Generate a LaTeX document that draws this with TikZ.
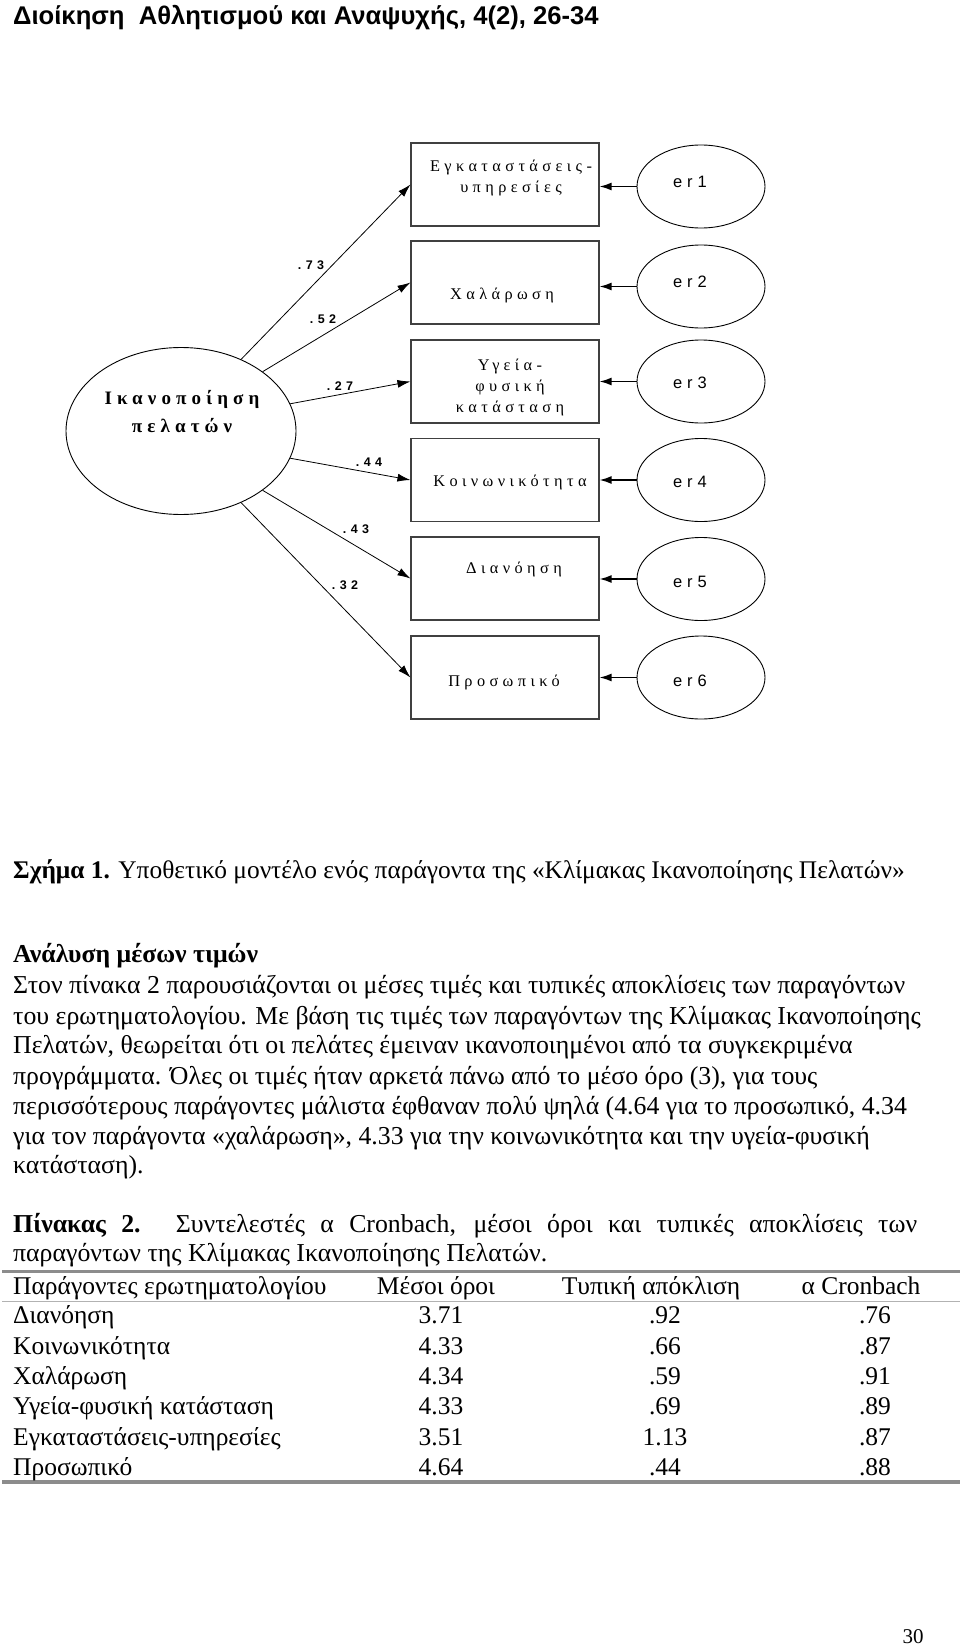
\documentclass[tikz,border=0pt]{standalone}
\usepackage{fontspec}
\setmainfont{Liberation Serif}
\newfontfamily\hdrfont{Liberation Sans}
\newfontfamily\spserif{Liberation Serif}[LetterSpace=27]
\newfontfamily\spsans{Liberation Sans}[LetterSpace=30]
\newfontfamily\spsansb{Liberation Sans}[LetterSpace=35]
\usetikzlibrary{shapes.geometric,arrows.meta}
\begin{document}
\begin{tikzpicture}[x=1pt,y=-1pt,
  arr/.style={-{Latex[length=13pt,width=8pt]}, line width=0.8pt},
  earr/.style={-{Latex[length=12pt,width=8pt]}, line width=1.6pt},
  obs/.style={draw=black!75, line width=1.1pt, minimum width=188pt, minimum height=83pt, inner sep=0pt},
  err/.style={draw, ellipse, line width=0.9pt, minimum width=128pt, minimum height=83pt, inner sep=0pt},
  lat/.style={draw, ellipse, line width=0.9pt, minimum width=230pt, minimum height=167pt, inner sep=0pt},
  boxlbl/.style={font=\spserif\fontsize{16.3}{21}\selectfont, align=center, inner sep=0pt},
  errlbl/.style={font=\spsans\fontsize{16.5}{20}\selectfont, inner sep=0pt},
  latlbl/.style={font=\spserif\bfseries\fontsize{19}{28}\selectfont, align=center, inner sep=0pt},
  load/.style={font=\spsansb\bfseries\fontsize{12.5}{14}\selectfont, inner sep=0pt},
  body/.style={font=\fontsize{25.8}{29.5}\selectfont, anchor=base west, inner sep=0pt},
  cell/.style={font=\fontsize{25.5}{29.5}\selectfont, anchor=base, inner sep=0pt},
  rule/.style={draw=black!45}
]
\useasboundingbox (0,0) rectangle (960,1648);
\fill[white] (0,0) rectangle (960,1648);

% header
\node[font=\hdrfont\bfseries\fontsize{25.6}{29}\selectfont, anchor=base west, inner sep=0pt] (hdr) at (13,25) {Διοίκηση\ \ Αθλητισμού και Αναψυχής, 4(2), 26-34};

% latent
\node[lat] (lat) at (181,431) {};
\node[latlbl] (latt) at (182,412) {Ικανοποίηση\\πελατών};

% observed boxes
\node[obs] (b1) at (505,184.5) {};
\node[obs] (b2) at (505,282.5) {};
\node[obs] (b3) at (505,381.5) {};
\node[obs] (b4) at (505,480) {};
\node[obs] (b5) at (505,578.5) {};
\node[obs] (b6) at (505,677.5) {};

\node[boxlbl] (t1) at (511,178) {Εγκαταστάσεις-\\υπηρεσίες};
\node[boxlbl] (t2) at (502,295) {Χαλάρωση};
\node[boxlbl] (t3) at (510,387) {Υγεία-\\φυσική\\κατάσταση};
\node[boxlbl] (t4) at (510,482) {Κοινωνικότητα};
\node[boxlbl] (t5) at (514,569) {Διανόηση};
\node[boxlbl] (t6) at (504,682) {Προσωπικό};

% error ellipses
\node[err] (e1) at (701,186.5) {};
\node[err] (e2) at (701,286.5) {};
\node[err] (e3) at (701,381.5) {};
\node[err] (e4) at (701,480) {};
\node[err] (e5) at (701,579) {};
\node[err] (e6) at (701,677.5) {};
\node[errlbl] (l1) at (690,182) {er1};
\node[errlbl] (l2) at (690,282) {er2};
\node[errlbl] (l3) at (690,383) {er3};
\node[errlbl] (l4) at (690,482) {er4};
\node[errlbl] (l5) at (690,582) {er5};
\node[errlbl] (l6) at (690,681) {er6};

\foreach \i in {1,...,6}{
  \draw[earr] (e\i.west) -- (e\i.west -| b\i.east);
}

% loadings
\draw[arr] (lat.50) -- (b1.west);
\draw[arr] (lat.36) -- (b2.west);
\draw[arr] (lat.14) -- (b3.west);
\draw[arr] (lat.-14) -- (b4.west);
\draw[arr] (lat.-36) -- (b5.west);
\draw[arr] (lat.-50) -- (b6.west);

\node[load] (w1) at (311,265) {.73};
\node[load] (w2) at (323,319) {.52};
\node[load] (w3) at (340,386) {.27};
\node[load] (w4) at (369,462) {.44};
\node[load] (w5) at (356,529) {.43};
\node[load] (w6) at (345,585) {.32};

% text
\node[body, font=\fontsize{25.4}{29.5}\selectfont] (cap) at (13,878) {\textbf{Σχήμα 1.} Υποθετικό μοντέλο ενός παράγοντα της «Κλίμακας Ικανοποίησης Πελατών»};
\node[body] (sec) at (13,962) {\textbf{Ανάλυση μέσων τιμών}};
\node[body] (p1) at (13,993.5) {Στον πίνακα 2 παρουσιάζονται οι μέσες τιμές και τυπικές αποκλίσεις των παραγόντων};
\node[body] (p2) at (13,1024) {του ερωτηματολογίου. Με βάση τις τιμές των παραγόντων της Κλίμακας Ικανοποίησης};
\node[body] (p3) at (13,1053.5) {Πελατών, θεωρείται ότι οι πελάτες έμειναν ικανοποιημένοι από τα συγκεκριμένα};
\node[body] (p4) at (13,1084) {προγράμματα. Όλες οι τιμές ήταν αρκετά πάνω από το μέσο όρο (3), για τους};
\node[body] (p5) at (13,1114.5) {περισσότερους παράγοντες μάλιστα έφθαναν πολύ ψηλά (4.64 για το προσωπικό, 4.34};
\node[body] (p6) at (13,1144) {για τον παράγοντα «χαλάρωση», 4.33 για την κοινωνικότητα και την υγεία-φυσική};
\node[body] (p7) at (13,1173.5) {κατάσταση).};
\node[body] (tc1) at (13,1232) {\makebox[904pt][s]{\textbf{Πίνακας 2.} Συντελεστές α Cronbach, μέσοι όροι και τυπικές αποκλίσεις των}};
\node[body] (tc2) at (13,1261) {παραγόντων της Κλίμακας Ικανοποίησης Πελατών.};

% table rules
\draw[rule, line width=3.5pt] (2,1271.5) -- (960,1271.5);
\draw[rule, line width=1.8pt, draw=black!30] (2,1301.5) -- (960,1301.5);
\draw[rule, line width=3.5pt] (2,1482) -- (960,1482);

% table header
\node[body, font=\fontsize{25.5}{29.5}\selectfont] (h1) at (13,1294) {Παράγοντες ερωτηματολογίου};
\node[cell] (h2) at (436,1294) {Μέσοι όροι};
\node[cell] (h3) at (651,1294) {Τυπική απόκλιση};
\node[cell] (h4) at (861,1294) {α Cronbach};

% rows
\node[body, font=\fontsize{25.5}{29.5}\selectfont] (r1a) at (13,1323.5) {Διανόηση};
\node[cell] (r1b) at (441,1323.5) {3.71};
\node[cell] (r1c) at (665,1323.5) {.92};
\node[cell] (r1d) at (875,1323.5) {.76};
\node[body, font=\fontsize{25.5}{29.5}\selectfont] (r2a) at (13,1354) {Κοινωνικότητα};
\node[cell] (r2b) at (441,1354) {4.33};
\node[cell] (r2c) at (665,1354) {.66};
\node[cell] (r2d) at (875,1354) {.87};
\node[body, font=\fontsize{25.5}{29.5}\selectfont] (r3a) at (13,1384) {Χαλάρωση};
\node[cell] (r3b) at (441,1384) {4.34};
\node[cell] (r3c) at (665,1384) {.59};
\node[cell] (r3d) at (875,1384) {.91};
\node[body, font=\fontsize{25.5}{29.5}\selectfont] (r4a) at (13,1414.5) {Υγεία-φυσική κατάσταση};
\node[cell] (r4b) at (441,1414.5) {4.33};
\node[cell] (r4c) at (665,1414.5) {.69};
\node[cell] (r4d) at (875,1414.5) {.89};
\node[body, font=\fontsize{25.5}{29.5}\selectfont] (r5a) at (13,1445) {Εγκαταστάσεις-υπηρεσίες};
\node[cell] (r5b) at (441,1445) {3.51};
\node[cell] (r5c) at (665,1445) {1.13};
\node[cell] (r5d) at (875,1445) {.87};
\node[body, font=\fontsize{25.5}{29.5}\selectfont] (r6a) at (13,1475.5) {Προσωπικό};
\node[cell] (r6b) at (441,1475.5) {4.64};
\node[cell] (r6c) at (665,1475.5) {.44};
\node[cell] (r6d) at (875,1475.5) {.88};

% page number
\node[cell, font=\fontsize{21}{24}\selectfont] (pg) at (913,1643) {30};
\end{tikzpicture}
\end{document}
